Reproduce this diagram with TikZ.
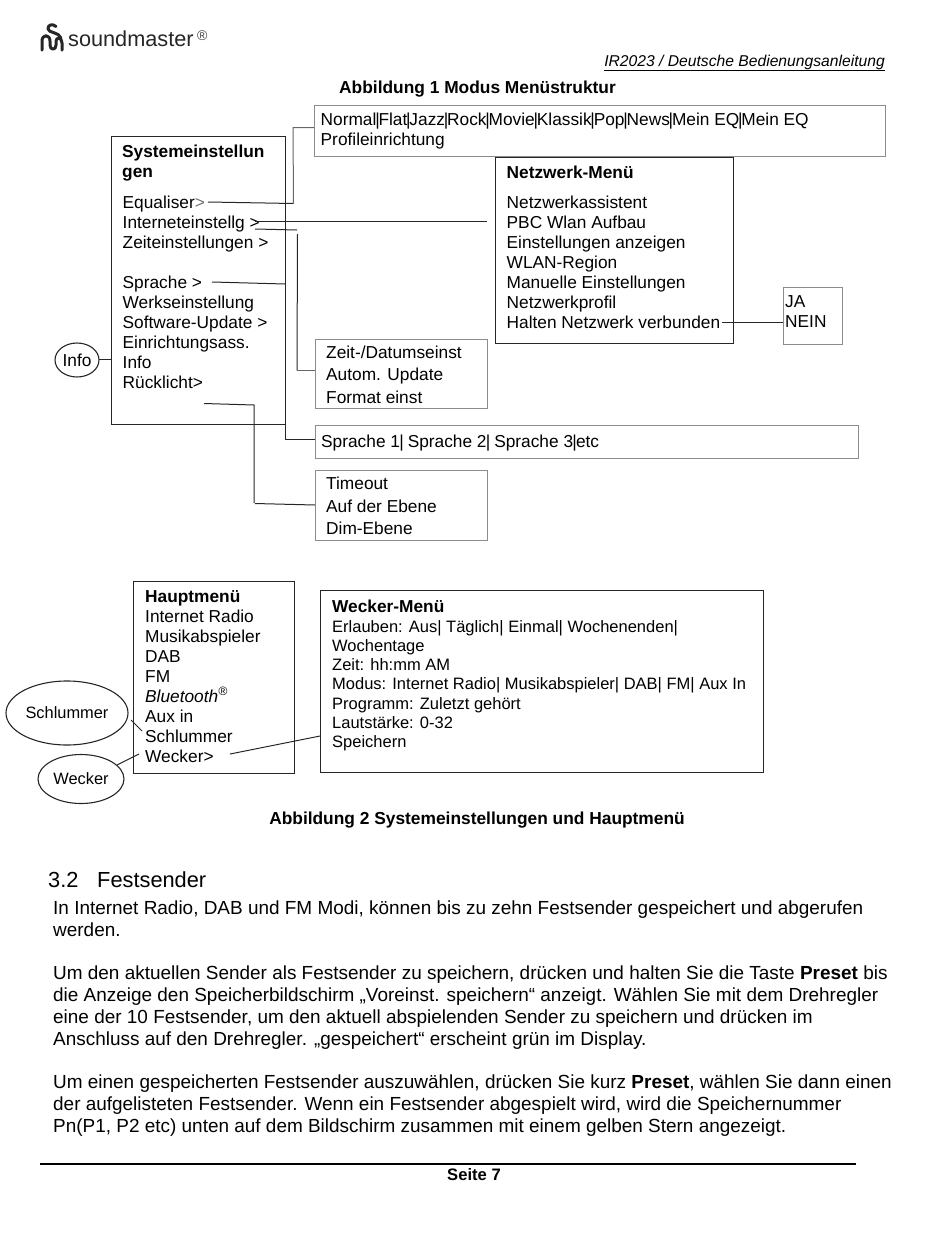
\documentclass[tikz,border=0pt]{standalone}
\usepackage{fontspec}
\setmainfont{Liberation Sans}
\usetikzlibrary{shapes.geometric}
\tikzset{
  dk/.style={draw=black!85,line width=1.1pt},
  gr/.style={draw=black!45,line width=1pt},
  conn/.style={draw=black!85,line width=1pt},
  txt/.style={anchor=north west,inner sep=0pt,align=left,font=\fontsize{17.3}{20}\selectfont},
  txtb/.style={anchor=north west,inner sep=0pt,align=left,font=\fontsize{16.5}{19.3}\selectfont},
  body/.style={anchor=north west,inner sep=0pt,align=left,font=\fontsize{18.95}{21.7}\selectfont},
  capt/.style={anchor=base,inner sep=0pt,font=\fontsize{17.35}{19}\bfseries\selectfont},
  oval/.style={ellipse,draw=black!85,line width=1.1pt,inner sep=0pt,font=\fontsize{16.4}{19}\selectfont}
}
\newcommand{\boxat}[6]{\node[#2,inner sep=0pt,anchor=north west,minimum width=#5pt-#3pt,minimum height=#6pt-#4pt] (#1) at (#3,#4) {};}
\newcommand{\pp}{\kern-1.2pt|\kern-1.2pt}
\newcommand{\pq}{\kern-0.8pt|\kern-0.8pt}
\begin{document}
\begin{tikzpicture}[x=1pt,y=-1pt]
\useasboundingbox (0,0) rectangle (950,1237);
% logo
\draw[black!85,line width=3pt,line cap=round,line join=round] (42,50) -- (42,41) .. controls (42,34) and (50,34) .. (50,41) -- (50,45) .. controls (50,50.5) and (56,50.5) .. (56,45) -- (56,41) .. controls (56,37) and (62,37) .. (62,43) -- (62,50);
\draw[black!85,line width=3pt,line cap=round,line join=round] (56,26.5) .. controls (53,23.5) and (47.5,24.5) .. (48,29) .. controls (48.5,33) and (59,32) .. (61,38);
\node[anchor=base west,inner sep=0pt,font=\fontsize{21.7}{24}\selectfont,text=black!85] (logo) at (68,46.5) {soundmaster};
\node[anchor=base west,inner sep=0pt,font=\fontsize{14}{15}\selectfont,text=black!75] (reg) at (197,40) {®};
\node[anchor=base east,inner sep=0pt,font=\fontsize{15.67}{19}\itshape\selectfont] (hdr) at (885,66) {\underline{IR2023 / Deutsche Bedienungsanleitung}};
\node[capt,anchor=base west] (cap1) at (339,93) {Abbildung 1 Modus Menüstruktur};
% boxes
\boxat{eq}{gr}{314}{105}{885}{156}
\boxat{sys}{dk}{111}{136}{285}{424}
\boxat{net}{dk}{495}{157}{733}{343}
\boxat{ja}{gr}{783}{287}{842}{344}
\boxat{zeit}{gr}{315}{339}{487}{408}
\boxat{spr}{gr}{315}{425}{858}{458}
\boxat{tim}{gr}{315}{470}{487}{540}
\boxat{haupt}{dk}{133}{581}{294}{773}
\boxat{weck}{dk}{320}{590}{763}{772}
% texts
\node[txt] (teq) at (320.5,113) {Normal\pp Flat\pp Jazz\pp Rock\pp Movie\pp Klassik\pp Pop\pp News\pp Mein EQ\pp Mein EQ\\Profileinrichtung};
\node[txt] (tsyst) at (122,145) {\textbf{Systemeinstellun}\\\textbf{gen}};
\node[txt] (tsys) at (122.5,195.5) {Equaliser\textcolor{black!55}{>}\\Interneteinstellg >\\Zeiteinstellungen >\\[20pt]Sprache >\\Werkseinstellung\\Software-Update >\\Einrichtungsass.\\Info\\Rücklicht>};
\node[txt] (tnett) at (506.5,165.5) {\textbf{Netzwerk-Menü}};
\node[txt] (tnet) at (506.5,195.5) {Netzwerkassistent\\PBC Wlan Aufbau\\Einstellungen anzeigen\\WLAN-Region\\Manuelle Einstellungen\\Netzwerkprofil\\Halten Netzwerk verbunden};
\node[txt] (tja) at (785,295) {JA\\NEIN};
\node[txt,font=\fontsize{17.3}{22.4}\selectfont] (tzeit) at (326,345.5) {Zeit-/Datumseinst\\Autom. Update\\Format einst};
\node[txt] (tspr) at (321,434.5) {Sprache 1\pq\ Sprache 2\pq\ Sprache 3\pq etc};
\node[txt,font=\fontsize{17.3}{22.4}\selectfont] (ttim) at (326,477) {Timeout\\Auf der Ebene\\Dim-Ebene};
\node[txt] (thaupt) at (145,590) {\textbf{Hauptmenü}\\Internet Radio\\Musikabspieler\\DAB\\FM\\\textit{Bluetooth}\textsuperscript{\textit{®}}\\Aux in\\Schlummer\\Wecker>};
\node[txtb] (tweck) at (332,600) {\textbf{\fontsize{17.3}{19.3}\selectfont Wecker-Menü}\\Erlauben: Aus| Täglich| Einmal| Wochenenden|\\Wochentage\\Zeit: hh:mm AM\\Modus: Internet Radio| Musikabspieler| DAB| FM| Aux In\\Programm: Zuletzt gehört\\Lautstärke: 0-32\\Speichern};
% ovals
\node[oval,minimum width=44pt,minimum height=34pt,font=\fontsize{17.3}{20}\selectfont] (oinfo) at (77,360) {Info};
\node[oval,minimum width=122pt,minimum height=64pt] (oschl) at (67,713) {Schlummer};
\node[oval,minimum width=86pt,minimum height=49pt] (oweck) at (81,779) {Wecker};
% free ends
\coordinate (a1) at (208,202);
\coordinate (a2) at (293.5,203.5);
\coordinate (a3) at (293,127.5);
\coordinate (b1) at (255,221.5);
\coordinate (b2) at (487,221.5);
\coordinate (c1) at (255,229);
\coordinate (c2) at (297,230);
\coordinate (c3) at (297.5,234);
\coordinate (c4) at (297,370.5);
\coordinate (d1) at (212,282);
\coordinate (d2) at (285,284);
\coordinate (d3) at (285,273);
\coordinate (d4) at (285,439);
\coordinate (e1) at (204,403.5);
\coordinate (e2) at (254,405);
\coordinate (e3) at (254,503);
\coordinate (e4) at (255,503.5);
\coordinate (f1) at (99,359.5);
\coordinate (g1) at (722,322);
\coordinate (h1) at (131,720);
\coordinate (h2) at (142,731);
\coordinate (i1) at (117,765);
\coordinate (i2) at (139,754);
\coordinate (j1) at (230,754);
\coordinate (j2) at (320,736);
% connectors
\draw[conn] (a1) -- (a2);
\draw[draw=black!60,line width=1pt] (a2) -- (a3) -- (eq.west |- a3);
\draw[conn] (b1) -- (b2);
\draw[conn] (c1) -- (c2);
\draw[conn] (c3) -- (c4);
\draw[draw=black!60,line width=1pt] (c4) -- (zeit.west |- c4);
\draw[conn] (d1) -- (d2);
\draw[conn] (d3) -- (d4) -- (spr.west |- d4);
\draw[conn] (e1) -- (e2) -- (e3);
\draw[conn] (e4) -- (tim.west |- 0,505);
\draw[conn] (f1) -- (sys.west |- f1);
\draw[conn] (g1) -- (ja.west |- g1);
\draw[conn] (h1) -- (h2);
\draw[conn] (i1) -- (i2);
\draw[conn] (j1) -- (j2);
% caption 2, text
\node[capt] (cap2) at (477,824) {Abbildung 2 Systemeinstellungen und Hauptmenü};
\node[anchor=base west,inner sep=0pt,font=\fontsize{21.8}{25}\selectfont] (sec) at (48,887) {3.2};
\node[anchor=base west,inner sep=0pt,font=\fontsize{21.8}{25}\selectfont] (sect) at (97,887) {Festsender};
\node[body] (p1) at (53,901) {In Internet Radio, DAB und FM Modi, können bis zu zehn Festsender gespeichert und abgerufen\\werden.};
\node[body] (p2) at (53,966) {Um den aktuellen Sender als Festsender zu speichern, drücken und halten Sie die Taste \textbf{Preset} bis\\die Anzeige den Speicherbildschirm „Voreinst. speichern“ anzeigt. Wählen Sie mit dem Drehregler\\eine der 10 Festsender, um den aktuell abspielenden Sender zu speichern und drücken im\\Anschluss auf den Drehregler. „gespeichert“ erscheint grün im Display.};
\node[body] (p3) at (53,1075) {Um einen gespeicherten Festsender auszuwählen, drücken Sie kurz \textbf{Preset}, wählen Sie dann einen\\der aufgelisteten Festsender. Wenn ein Festsender abgespielt wird, wird die Speichernummer\\Pn(P1, P2 etc) unten auf dem Bildschirm zusammen mit einem gelben Stern angezeigt.};
\coordinate (fl) at (40,1164);
\coordinate (fr) at (856,1164);
\draw[black,line width=1.3pt] (fl) -- (fr);
\node[capt,font=\fontsize{16.6}{19}\bfseries\selectfont] (foot) at (474,1180) {Seite 7};
\end{tikzpicture}
\end{document}
